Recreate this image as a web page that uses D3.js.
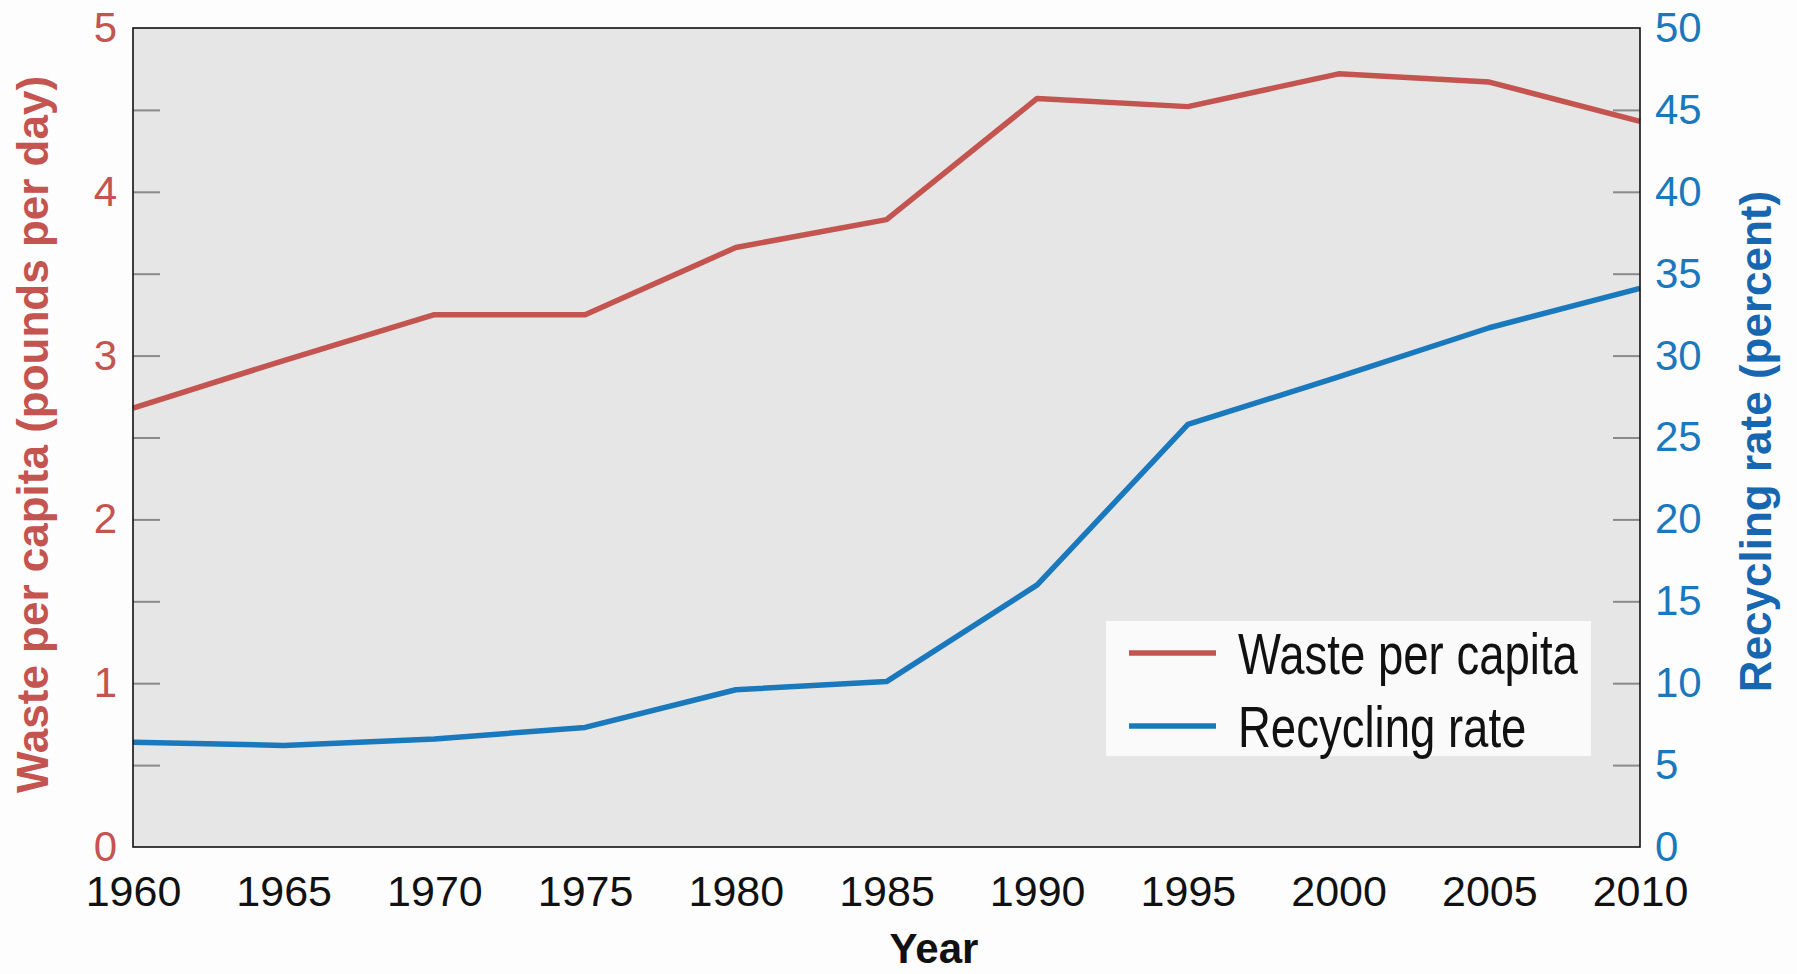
<!DOCTYPE html>
<html>
<head>
<meta charset="utf-8">
<script src="https://cdn.jsdelivr.net/npm/d3@7"></script>
<style>
  body { margin: 0; background: #fdfdfd; }
  svg { display: block; }
</style>
</head>
<body>
<div id="chart"></div>
<script>
var years = [1960, 1965, 1970, 1975, 1980, 1985, 1990, 1995, 2000, 2005, 2010];
var wastePerCapita = [2.68, 2.97, 3.25, 3.25, 3.66, 3.83, 4.57, 4.52, 4.72, 4.67, 4.43];
var recyclingRate = [6.4, 6.2, 6.6, 7.3, 9.6, 10.1, 16.0, 25.8, 28.7, 31.7, 34.1];

var yearTicks = [1960, 1965, 1970, 1975, 1980, 1985, 1990, 1995, 2000, 2005, 2010];
var wasteTicks = [0, 1, 2, 3, 4, 5];
var wasteMinorTicks = [0.5, 1, 1.5, 2, 2.5, 3, 3.5, 4, 4.5];
var rateTicks = [0, 5, 10, 15, 20, 25, 30, 35, 40, 45, 50];
var rateMinorTicks = [5, 10, 15, 20, 25, 30, 35, 40, 45];
var seriesNames = ["Waste per capita", "Recycling rate"];

var red = "#c4544f";
var blue = "#1a78bd";

var svgWidth = 1797;
var svgHeight = 974;
var margin = { top: 28, right: 157, bottom: 127, left: 133 };
var width = svgWidth - margin.left - margin.right;
var height = svgHeight - margin.top - margin.bottom;

var svg = d3.select("#chart")
  .append("svg")
  .attr("width", svgWidth)
  .attr("height", svgHeight)
  .style("font-family", "'Liberation Sans', Arial, Helvetica, sans-serif");

var g = svg.append("g")
  .attr("transform", "translate(" + margin.left + "," + margin.top + ")");

var x = d3.scaleLinear().domain([1960, 2010]).range([0, width]);
var yWaste = d3.scaleLinear().domain([0, 5]).range([height, 0]);
var yRate = d3.scaleLinear().domain([0, 50]).range([height, 0]);

// plot background
g.append("rect")
  .attr("width", width)
  .attr("height", height)
  .attr("fill", "#e6e6e6");

// inner gray ticks
var leftMinor = g.append("g")
  .call(d3.axisLeft(yWaste).tickValues(wasteMinorTicks).tickSize(-27).tickFormat(""));
var rightMinor = g.append("g")
  .attr("transform", "translate(" + width + ",0)")
  .call(d3.axisRight(yRate).tickValues(rateMinorTicks).tickSize(-27).tickFormat(""));
[leftMinor, rightMinor].forEach(function(a) {
  a.select(".domain").remove();
  a.selectAll("line").attr("stroke", "#8a8a8a").attr("stroke-width", 2);
});

// tick labels
var leftAxis = g.append("g")
  .call(d3.axisLeft(yWaste).tickValues(wasteTicks).tickSize(0).tickPadding(16).tickFormat(d3.format("d")));
leftAxis.selectAll("text").attr("fill", red).style("font-size", "42px");

var rightAxis = g.append("g")
  .attr("transform", "translate(" + width + ",0)")
  .call(d3.axisRight(yRate).tickValues(rateTicks).tickSize(0).tickPadding(15).tickFormat(d3.format("d")));
rightAxis.selectAll("text").attr("fill", blue).style("font-size", "42px");

var bottomAxis = g.append("g")
  .attr("transform", "translate(0," + height + ")")
  .call(d3.axisBottom(x).tickValues(yearTicks).tickSize(0).tickPadding(28).tickFormat(d3.format("d")));
bottomAxis.selectAll("text").attr("fill", "#111").style("font-size", "43px");

[leftAxis, rightAxis, bottomAxis].forEach(function(a) {
  a.select(".domain").remove();
});

// lines
var wasteLine = d3.line()
  .x(function(d, i) { return x(years[i]); })
  .y(function(d) { return yWaste(d); });
var rateLine = d3.line()
  .x(function(d, i) { return x(years[i]); })
  .y(function(d) { return yRate(d); });

g.append("path")
  .datum(wastePerCapita)
  .attr("d", wasteLine)
  .attr("fill", "none")
  .attr("stroke", red)
  .attr("stroke-width", 5.5)
  .attr("stroke-linejoin", "round");

g.append("path")
  .datum(recyclingRate)
  .attr("d", rateLine)
  .attr("fill", "none")
  .attr("stroke", blue)
  .attr("stroke-width", 5.5)
  .attr("stroke-linejoin", "round");

// frame
g.append("rect")
  .attr("width", width)
  .attr("height", height)
  .attr("fill", "none")
  .attr("stroke", "#111")
  .attr("stroke-width", 1.6);

// legend
var legend = g.append("g")
  .attr("transform", "translate(" + (1106 - margin.left) + "," + (621 - margin.top) + ")");
legend.append("rect")
  .attr("width", 485)
  .attr("height", 135)
  .attr("fill", "#fafafa");
var legendColors = [red, blue];
var items = legend.selectAll(".item")
  .data(seriesNames)
  .enter()
  .append("g")
  .attr("transform", function(d, i) { return "translate(0," + (32 + i * 73) + ")"; });
items.append("line")
  .attr("x1", 23).attr("x2", 110)
  .attr("stroke", function(d, i) { return legendColors[i]; })
  .attr("stroke-width", 5.5);
// condensed look: squeeze a regular sans horizontally
items.append("text")
  .attr("transform", "translate(132,0) scale(0.785,1)")
  .attr("dy", "0.36em")
  .style("font-size", "58px")
  .attr("fill", "#111")
  .text(function(d) { return d; });

// axis titles
svg.append("text")
  .attr("transform", "translate(48," + (margin.top + height / 2 - 3) + ") rotate(-90)")
  .attr("text-anchor", "middle")
  .attr("fill", red)
  .style("font-size", "44px")
  .style("font-weight", "bold")
  .text("Waste per capita (pounds per day)");

svg.append("text")
  .attr("transform", "translate(1771," + (margin.top + height / 2 + 4) + ") rotate(-90)")
  .attr("text-anchor", "middle")
  .attr("fill", "#1767b0")
  .style("font-size", "44px")
  .style("font-weight", "bold")
  .text("Recycling rate (percent)");

svg.append("text")
  .attr("x", 934)
  .attr("y", 963)
  .attr("text-anchor", "middle")
  .attr("fill", "#111")
  .style("font-size", "42px")
  .style("font-weight", "bold")
  .text("Year");
</script>
</body>
</html>
